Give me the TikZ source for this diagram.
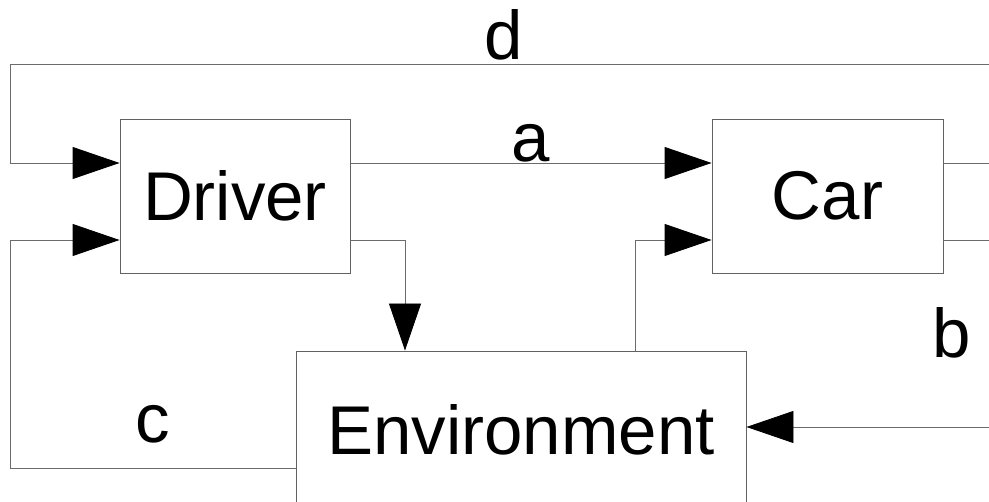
\documentclass[tikz,border=0pt]{standalone}
\usepackage{fontspec}
\setmainfont{Liberation Sans}
\usetikzlibrary{arrows.meta}
\begin{document}
\begin{tikzpicture}[x=1pt,y=-1pt,
  big/.style={font=\fontsize{69}{80}\selectfont},
  block/.style={draw=black!62, line width=0.9pt, fill=white, big, inner sep=0pt},
  conn/.style={draw=black!58, line width=0.9pt},
  tip/.style={conn, -{Triangle[length=47pt,width=32pt,color=black,fill=black]}},
  tag/.style={big, anchor=base, inner sep=0pt}]
\useasboundingbox (0,0) rectangle (989,502);
\clip (0,0) rectangle (989,502);
\fill[white] (0,0) rectangle (989,502);

% blocks
\node[block, minimum width=230pt, minimum height=154pt] (Driver) at (235,196) {Driver};
\node[block, minimum width=231pt, minimum height=154pt] (Car) at (827.5,196) {Car};
\node[block, minimum width=450pt, minimum height=158pt] (Env) at (521,430) {Environment};

% ports
\coordinate (drvInTop) at ([yshift=33pt]Driver.west);
\coordinate (drvInBot) at ([yshift=-44pt]Driver.west);
\coordinate (drvOutTop) at ([yshift=33pt]Driver.east);
\coordinate (drvOutBot) at ([yshift=-44pt]Driver.east);
\coordinate (carInTop) at ([yshift=33pt]Car.west);
\coordinate (carInBot) at ([yshift=-44pt]Car.west);
\coordinate (carOutTop) at ([yshift=33pt]Car.east);
\coordinate (carOutBot) at ([yshift=-44pt]Car.east);
\coordinate (envInL) at ([xshift=-116pt]Env.north);
\coordinate (envOutR) at ([xshift=114pt]Env.north);
\coordinate (envOutW) at ([yshift=-38pt]Env.west);
\coordinate (envInE) at ([yshift=3pt]Env.east);

% free ends beyond the right border and the left return rail
\coordinate (railL) at (10,0);
\coordinate (edgeD) at (1000,64);
\coordinate (edgeA) at (1000,163);
\coordinate (edgeB) at (1000,240);
\coordinate (edgeE) at (1000,427);

% connectors
\draw[tip] (edgeD) -- (edgeD -| railL) -- (drvInTop -| railL) -- (drvInTop);
\draw[tip] (drvOutTop) -- (carInTop);
\draw[tip] (drvOutBot) -| (envInL);
\draw[tip] (envOutR) |- (carInBot);
\draw[tip] (envOutW) -- (envOutW -| railL) -- (drvInBot -| railL) -- (drvInBot);
\draw[conn] (carOutTop) -- (edgeA);
\draw[conn] (carOutBot) -- (edgeB);
\draw[tip] (edgeE) -- (envInE);

% signal labels
\node[tag] (lblD) at (504,60) {d};
\node[tag] (lblA) at (531,162) {a};
\node[tag] (lblB) at (952,358) {b};
\node[tag] (lblC) at (153,443) {c};
\end{tikzpicture}
\end{document}
